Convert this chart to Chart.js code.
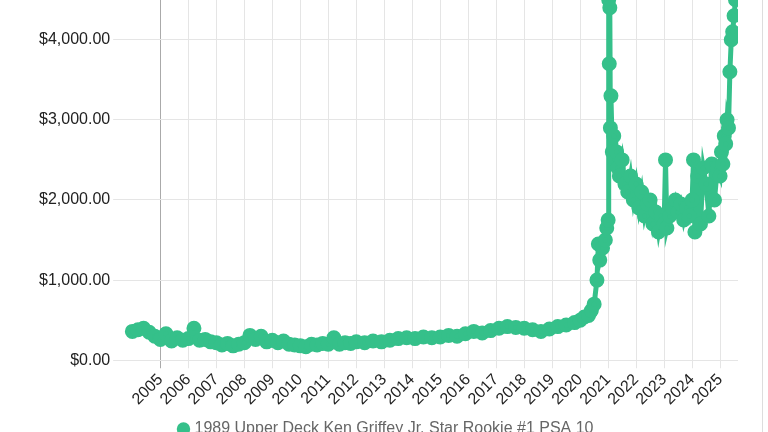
<!DOCTYPE html>
<html>
<head>
<meta charset="utf-8">
<script src="https://cdn.jsdelivr.net/npm/chart.js@4"></script>
<style>
  html, body { margin: 0; padding: 0; background: #fff; overflow: hidden; }
  #wrap { position: absolute; left: 0; top: -53px; width: 762px; height: 500px; border-right: 1px solid #ddd; }
</style>
</head>
<body>
<div id="wrap"><canvas id="myChart"></canvas></div>
<script>
const dates = [
  2004.0, 2004.2, 2004.4, 2004.6, 2004.8, 2005.0, 2005.2, 2005.4, 2005.6, 2005.8,
  2006.0, 2006.2, 2006.4, 2006.6, 2006.8, 2007.0, 2007.2, 2007.4, 2007.6, 2007.8,
  2008.0, 2008.2, 2008.4, 2008.6, 2008.8, 2009.0, 2009.2, 2009.4, 2009.6, 2009.8,
  2010.0, 2010.2, 2010.4, 2010.6, 2010.8, 2011.0, 2011.2, 2011.4, 2011.6, 2011.8,
  2012.0, 2012.3, 2012.6, 2012.9, 2013.2, 2013.5, 2013.8, 2014.1, 2014.4, 2014.7,
  2015.0, 2015.3, 2015.6, 2015.9, 2016.2, 2016.5, 2016.8, 2017.1, 2017.4, 2017.7,
  2018.0, 2018.3, 2018.6, 2018.9, 2019.2, 2019.5, 2019.8, 2020.0, 2020.15, 2020.3,
  2020.4, 2020.5, 2020.6, 2020.65, 2020.7, 2020.8, 2020.9, 2020.95,
  2021.0, 2021.02, 2021.04, 2021.06, 2021.08, 2021.1, 2021.15, 2021.2, 2021.25, 2021.3,
  2021.35, 2021.4, 2021.5, 2021.6, 2021.7, 2021.8, 2021.9, 2022.0, 2022.1, 2022.2,
  2022.3, 2022.4, 2022.5, 2022.6, 2022.7, 2022.8, 2022.9, 2023.0, 2023.05, 2023.1,
  2023.2, 2023.3, 2023.4, 2023.5, 2023.6, 2023.7, 2023.8, 2023.9, 2024.0, 2024.05,
  2024.1, 2024.2, 2024.3, 2024.4, 2024.5, 2024.6, 2024.7, 2024.8, 2024.9, 2025.0,
  2025.05, 2025.1, 2025.15, 2025.2, 2025.25, 2025.3, 2025.35, 2025.4, 2025.45, 2025.5,
  2025.55, 2025.6
];
const prices = [
  360, 380, 400, 350, 300, 260, 330, 240, 280, 250,
  270, 400, 250, 260, 230, 220, 190, 210, 180, 200,
  220, 310, 260, 300, 230, 250, 220, 240, 200, 190,
  180, 170, 200, 190, 210, 200, 280, 200, 220, 210,
  230, 220, 240, 230, 250, 270, 280, 270, 290, 280,
  290, 310, 300, 330, 360, 340, 370, 400, 420, 410,
  400, 380, 360, 390, 420, 440, 470, 500, 540, 560,
  620, 700, 1000, 1450, 1250, 1400, 1500, 1650,
  1750, 4500, 3700, 4400, 2900, 3300, 2600, 2800, 2500, 2600,
  2400, 2300, 2500, 2200, 2100, 2300, 2000, 2200, 1900, 2100,
  1800, 1950, 2000, 1700, 1850, 1600, 1800, 1700, 2500, 1650,
  1800, 1900, 2000, 1850, 1950, 1750, 1900, 1800, 2000, 2500,
  1600, 2300, 1700, 2400, 2200, 1800, 2450, 2000, 2400, 2300,
  2600, 2450, 2800, 2700, 3000, 2900, 3600, 4000, 4100, 4300,
  4500, 4800
];
const yearTicks = [2005, 2006, 2007, 2008, 2009, 2010, 2011, 2012, 2013, 2014, 2015,
  2016, 2017, 2018, 2019, 2020, 2021, 2022, 2023, 2024, 2025];
const seriesLabel = "1989 Upper Deck Ken Griffey Jr. Star Rookie #1 PSA 10";
const green = "#35c08a";

Chart.defaults.font.family = "'Liberation Sans', Arial, sans-serif";

new Chart(document.getElementById("myChart"), {
  type: "line",
  data: {
    datasets: [{
      label: seriesLabel,
      data: dates.map((d, i) => ({ x: d, y: prices[i] })),
      borderColor: green,
      backgroundColor: green,
      borderWidth: 5,
      pointRadius: 5,
      tension: 0,
    }],
  },
  options: {
    animation: false,
    responsive: true,
    maintainAspectRatio: false,
    layout: { padding: { top: 9, right: 24, left: 36 } },
    plugins: {
      legend: {
        position: "bottom",
        labels: { color: "#666", font: { size: 16 }, boxWidth: 6, boxHeight: 6, usePointStyle: true },
      },
    },
    scales: {
      x: {
        type: "linear",
        min: 2003.6,
        max: 2025.64,
        afterBuildTicks: (axis) => { axis.ticks = yearTicks.map((v) => ({ value: v })); },
        ticks: {
          color: "#222",
          font: { size: 16 },
          autoSkip: false,
          maxRotation: 45,
          minRotation: 45,
          padding: 2,
          callback: (v) => String(v),
        },
        grid: {
          color: (c) => (c.tick && c.tick.value === 2005 ? "#aaa" : "#e5e5e5"),
        },
        border: { display: false },
      },
      y: {
        min: 0,
        max: 5000,
        ticks: {
          stepSize: 1000,
          color: "#222",
          font: { size: 16 },
          callback: (v) => "$" + v.toLocaleString("en-US", { minimumFractionDigits: 2 }),
        },
        grid: { color: "#e5e5e5" },
        border: { display: false },
      },
    },
  },
});
</script>
</body>
</html>
